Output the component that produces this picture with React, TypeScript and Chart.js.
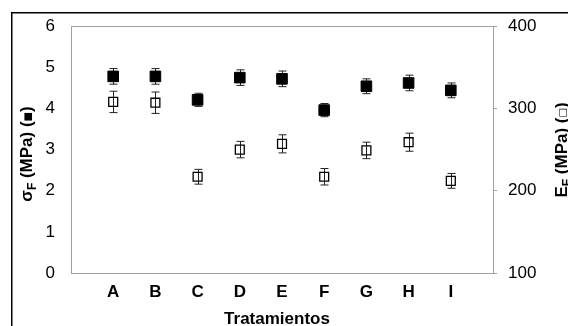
import React, { useEffect, useRef } from 'react';
import { Chart, registerables } from 'chart.js';

Chart.register(...registerables);

const categories = ['A', 'B', 'C', 'D', 'E', 'F', 'G', 'H', 'I'];
const sigmaF = [4.78, 4.78, 4.21, 4.75, 4.72, 3.96, 4.54, 4.62, 4.44];
const sigmaFErr = [0.19, 0.19, 0.16, 0.19, 0.19, 0.16, 0.18, 0.19, 0.18];
const modulusE = [308, 307, 217, 250, 257, 217, 249, 259, 212];
const modulusEErr = [13, 13, 9, 10, 11, 10, 10, 11, 9];
const leftTicks = [0, 1, 2, 3, 4, 5, 6];
const rightTicks = [100, 200, 300, 400];
const xTitle = 'Tratamientos';

const FONT = "'Liberation Sans', Arial, sans-serif";
const errors = [sigmaFErr, modulusEErr];

type Part = { t: string; font: string; dy?: number };

function drawRotated(ctx: CanvasRenderingContext2D, cx: number, cy: number, parts: Part[]) {
  ctx.save();
  let total = 0;
  const widths = parts.map((p) => {
    ctx.font = p.font;
    const w = ctx.measureText(p.t).width;
    total += w;
    return w;
  });
  ctx.translate(cx, cy);
  ctx.rotate(-Math.PI / 2);
  ctx.fillStyle = '#000';
  ctx.textBaseline = 'alphabetic';
  ctx.textAlign = 'left';
  let x = -total / 2;
  parts.forEach((p, i) => {
    ctx.font = p.font;
    ctx.fillText(p.t, x, 6 + (p.dy || 0));
    x += widths[i];
  });
  ctx.restore();
}

const framePlugin = {
  id: 'framePlugin',
  beforeDatasetsDraw(chart: any) {
    const ctx = chart.ctx as CanvasRenderingContext2D;
    ctx.save();
    ctx.strokeStyle = '#222';
    ctx.lineWidth = 1;
    chart.data.datasets.forEach((ds: any, di: number) => {
      const meta = chart.getDatasetMeta(di);
      const ys = chart.scales[meta.yAxisID];
      const vals = di === 0 ? sigmaF : modulusE;
      meta.data.forEach((pt: any, j: number) => {
        const x = Math.round(pt.x) + 0.5;
        const top = ys.getPixelForValue(vals[j] + errors[di][j]);
        const bot = ys.getPixelForValue(vals[j] - errors[di][j]);
        ctx.beginPath();
        ctx.moveTo(x, top);
        ctx.lineTo(x, bot);
        ctx.moveTo(x - 4, top);
        ctx.lineTo(x + 4, top);
        ctx.moveTo(x - 4, bot);
        ctx.lineTo(x + 4, bot);
        ctx.stroke();
      });
    });
    ctx.restore();
  },
  afterDraw(chart: any) {
    const ctx = chart.ctx as CanvasRenderingContext2D;
    const a = chart.chartArea;
    ctx.save();
    ctx.strokeStyle = '#a0a0a0';
    ctx.lineWidth = 1;
    ctx.strokeRect(Math.round(a.left) + 0.5, Math.round(a.top) + 0.5, Math.round(a.right - a.left), Math.round(a.bottom - a.top));
    ctx.strokeStyle = '#000';
    ctx.lineWidth = 1.5;
    ctx.strokeRect(11.75, 12.75, 800, 500);
    ctx.fillStyle = '#000';
    ctx.font = `bold 17px ${FONT}`;
    ctx.textAlign = 'center';
    ctx.textBaseline = 'alphabetic';
    ctx.fillText(xTitle, 277, 324);
    ctx.restore();
    const b = `bold 17px ${FONT}`;
    const s = `bold 12px ${FONT}`;
    drawRotated(ctx, 26, 154, [
      { t: 'σ', font: b },
      { t: 'F', font: s, dy: 4 },
      { t: ' (MPa) (', font: b },
      { t: '■', font: `10px 'DejaVu Sans'`, dy: -1 },
      { t: ')', font: b },
    ]);
    drawRotated(ctx, 561, 150, [
      { t: 'E', font: b },
      { t: 'F', font: s, dy: 4 },
      { t: ' (MPa) (', font: b },
      { t: '□', font: `10px 'DejaVu Sans'`, dy: -1 },
      { t: ')', font: b },
    ]);
  },
};

export default function App() {
  const ref = useRef<HTMLCanvasElement | null>(null);
  useEffect(() => {
    if (!ref.current) return;
    const chart = new Chart(ref.current, {
      type: 'scatter',
      data: {
        datasets: [
          {
            label: 'σF (MPa)',
            data: sigmaF.map((v, i) => ({ x: i + 1, y: v })),
            yAxisID: 'y',
            pointStyle: 'rect',
            pointRadius: 7.5,
            backgroundColor: '#000',
            borderColor: '#000',
            borderWidth: 1,
          },
          {
            label: 'EF (MPa)',
            data: modulusE.map((v, i) => ({ x: i + 1, y: v })),
            yAxisID: 'y1',
            pointStyle: 'rect',
            pointRadius: 6.3,
            backgroundColor: 'rgba(0,0,0,0)',
            borderColor: '#000',
            borderWidth: 1.3,
          },
        ],
      },
      options: {
        responsive: false,
        animation: false,
        layout: { padding: { top: 26, left: 0, right: 0, bottom: 0 } },
        plugins: { legend: { display: false }, tooltip: { enabled: false } },
        scales: {
          x: {
            type: 'linear',
            min: 0,
            max: 10,
            afterBuildTicks: (sc: any) => {
              sc.ticks = categories.map((_, i) => ({ value: i + 1 }));
            },
            afterFit: (sc: any) => {
              sc.height = 53;
            },
            ticks: {
              callback: (v: any) => categories[Number(v) - 1] ?? '',
              font: { family: FONT, size: 17, weight: 'bold' },
              color: '#000',
              padding: 9,
              maxRotation: 0,
              autoSkip: false,
            },
            grid: { display: false, drawTicks: false },
            border: { display: false },
          },
          y: {
            position: 'left',
            min: 0,
            max: 6,
            afterBuildTicks: (sc: any) => {
              sc.ticks = leftTicks.map((v) => ({ value: v }));
            },
            afterFit: (sc: any) => {
              sc.width = 71;
            },
            ticks: {
              font: { family: FONT, size: 17 },
              color: '#000',
              padding: 16,
            },
            grid: { display: false, drawTicks: false },
            border: { display: false },
          },
          y1: {
            position: 'right',
            min: 100,
            max: 400,
            afterBuildTicks: (sc: any) => {
              sc.ticks = rightTicks.map((v) => ({ value: v }));
            },
            afterFit: (sc: any) => {
              sc.width = 75;
            },
            ticks: {
              font: { family: FONT, size: 17 },
              color: '#000',
              padding: 11,
            },
            grid: { drawOnChartArea: false, drawTicks: true, tickLength: 4, color: '#a0a0a0' },
            border: { display: false },
          },
        },
      } as any,
      plugins: [framePlugin],
    });
    return () => chart.destroy();
  }, []);
  return (
    <div style={{ position: 'fixed', left: 0, top: 0, width: 568, height: 326, background: '#fff' }}>
      <canvas ref={ref} width={568} height={326} style={{ display: 'block' }} />
    </div>
  );
}
